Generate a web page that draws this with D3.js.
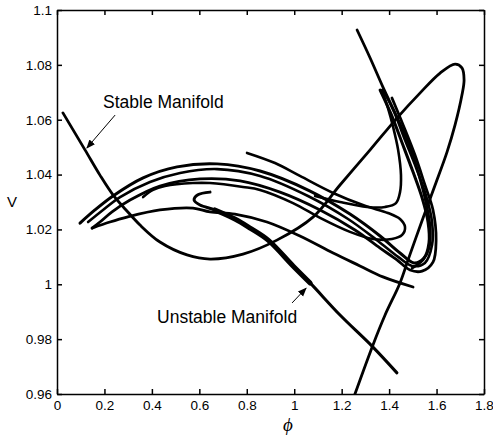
<!DOCTYPE html>
<html>
<head>
<meta charset="utf-8">
<script src="https://cdn.jsdelivr.net/npm/d3@7"></script>
<style>
	body { margin: 0; background: #fff; }
	.axis text { font-family: "Liberation Sans", Arial, sans-serif; font-size: 13.5px; fill: #000; }
	.axis path, .axis line { stroke: #000; stroke-width: 1.5px; }
	.curve { fill: none; stroke: #000; stroke-linecap: round; stroke-linejoin: round; }
</style>
</head>
<body>
<script>

let width = 493;
let height = 440;

let margins = {
	top: 10,
	right: 9,
	bottom: 46,
	left: 57
};

// tick values and labels
let xTicks = [0, 0.2, 0.4, 0.6, 0.8, 1, 1.2, 1.4, 1.6, 1.8];
let xTickLabels = ["0", "0.2", "0.4", "0.6", "0.8", "1", "1.2", "1.4", "1.6", "1.8"];
let yTicks = [0.96, 0.98, 1, 1.02, 1.04, 1.06, 1.08, 1.1];
let yTickLabels = ["0.96", "0.98", "1", "1.02", "1.04", "1.06", "1.08", "1.1"];

// curves, [phi, V]
let bigLoop = [[0.025,1.0625],[0.118,1.0490],[0.181,1.0398],[0.236,1.0326],[0.291,1.0271],[0.350,1.0216],[0.434,1.0154],[0.548,1.0107],[0.645,1.0092],[0.784,1.0110],[0.927,1.0161],[1.079,1.0245],[1.193,1.0362],[1.320,1.0490],[1.433,1.0606],[1.530,1.0697],[1.615,1.0770],[1.678,1.0803],[1.707,1.0789],[1.716,1.0745],[1.707,1.0690],[1.678,1.0581],[1.644,1.0482],[1.594,1.0362],[1.560,1.0282],[1.514,1.0172],[1.480,1.0089],[1.446,1.0005],[1.383,0.9888],[1.332,0.9779],[1.256,0.9600]];
let upperStable = [[1.265,1.0927],[1.320,1.0825],[1.374,1.0719],[1.433,1.0610],[1.488,1.0501],[1.526,1.0398],[1.556,1.0296],[1.573,1.0205],[1.568,1.0132],[1.543,1.0089],[1.497,1.0059]];
let outerArc = [[0.097,1.0223],[0.160,1.0271],[0.236,1.0322],[0.363,1.0388],[0.506,1.0428],[0.675,1.0439],[0.856,1.0413],[1.067,1.0340],[1.235,1.0256],[1.362,1.0176],[1.446,1.0114],[1.505,1.0078],[1.547,1.0096],[1.568,1.0151],[1.564,1.0227],[1.539,1.0315],[1.501,1.0409],[1.455,1.0515],[1.408,1.0621],[1.362,1.0708]];
let outerArc2 = [[0.131,1.0227],[0.194,1.0271],[0.266,1.0318],[0.392,1.0373],[0.519,1.0406],[0.675,1.0420],[0.856,1.0395],[1.058,1.0322],[1.227,1.0238],[1.353,1.0158],[1.438,1.0100],[1.497,1.0067],[1.551,1.0078],[1.581,1.0143],[1.581,1.0227],[1.556,1.0322],[1.514,1.0424],[1.467,1.0526],[1.421,1.0628],[1.379,1.0701]];
let innerArc = [[0.148,1.0205],[0.181,1.0227],[0.232,1.0264],[0.308,1.0307],[0.434,1.0358],[0.603,1.0384],[0.772,1.0377],[0.940,1.0336],[1.109,1.0271],[1.256,1.0198],[1.362,1.0132],[1.433,1.0089],[1.488,1.0052],[1.539,1.0048],[1.585,1.0081],[1.598,1.0161],[1.585,1.0271],[1.551,1.0362],[1.509,1.0471],[1.459,1.0581],[1.412,1.0679]];
let lowerArc = [[0.148,1.0205],[0.223,1.0227],[0.295,1.0245],[0.434,1.0271],[0.573,1.0278],[0.645,1.0264],[0.750,1.0256],[0.885,1.0227],[1.024,1.0176],[1.164,1.0114],[1.277,1.0067],[1.374,1.0027],[1.501,0.9990]];
let stableThick = [[0.645,1.0336],[0.594,1.0326],[0.578,1.0307],[0.603,1.0289],[0.666,1.0271],[0.750,1.0238],[0.814,1.0205],[0.890,1.0161],[0.995,1.0067],[1.067,1.0005],[1.193,0.9888],[1.332,0.9771],[1.433,0.9677]];
let tongue = [[0.801,1.0479],[0.919,1.0442],[1.024,1.0395],[1.164,1.0333],[1.298,1.0286],[1.395,1.0260],[1.446,1.0238],[1.467,1.0209],[1.455,1.0180],[1.412,1.0165],[1.332,1.0165],[1.235,1.0191],[1.109,1.0242],[0.995,1.0296],[0.856,1.0344],[0.784,1.0355],[0.645,1.0369],[0.573,1.0369],[0.455,1.0358],[0.405,1.0344],[0.363,1.0318]];
let innerHook = [[1.370,1.0708],[1.395,1.0643],[1.417,1.0573],[1.438,1.0490],[1.450,1.0398],[1.446,1.0336],[1.429,1.0296],[1.383,1.0282],[1.307,1.0282],[1.193,1.0300],[1.088,1.0322]];

// annotations
let labels = [
	{text: "Stable Manifold", x: 0.194, y: 1.0643, from: [0.245, 1.0617], to: [0.126, 1.0497]},
	{text: "Unstable Manifold", x: 0.422, y: 0.9859, from: [0.991, 0.9932], to: [1.050, 0.9986]}
];

let curves = [
	{data: bigLoop, w: 2.8},
	{data: upperStable, w: 2.8},
	{data: outerArc, w: 3},
	{data: outerArc2, w: 2.6},
	{data: innerArc, w: 2.8},
	{data: lowerArc, w: 2.8},
	{data: stableThick, w: 3},
	{data: stableThick.slice(4, 10), w: 5},
	{data: tongue, w: 2.6},
	{data: innerHook, w: 2.6}
];

let xScale = d3.scaleLinear()
	.range([margins.left, width - margins.right])
	.domain([0, 1.8]);

let yScale = d3.scaleLinear()
	.range([height - margins.bottom, margins.top])
	.domain([0.96, 1.1]);

let svg = d3.select("body")
	.append("svg")
		.attr("width", width)
		.attr("height", height);

svg.append("defs").append("marker")
	.attr("id", "head")
	.attr("viewBox", "0 0 10 10")
	.attr("refX", 9)
	.attr("refY", 5)
	.attr("markerWidth", 9)
	.attr("markerHeight", 9)
	.attr("markerUnits", "userSpaceOnUse")
	.attr("orient", "auto")
	.append("path")
		.attr("d", "M0,1 L10,5 L0,9 Z")
		.attr("fill", "#000");

let line = d3.line()
	.x(d => xScale(d[0]))
	.y(d => yScale(d[1]))
	.curve(d3.curveCatmullRom.alpha(0.5));

svg.append("clipPath")
	.attr("id", "plot")
	.append("rect")
		.attr("x", margins.left)
		.attr("y", margins.top)
		.attr("width", width - margins.left - margins.right)
		.attr("height", height - margins.top - margins.bottom);

svg.append("g")
	.attr("clip-path", "url(#plot)")
	.selectAll("path")
	.data(curves)
	.enter().append("path")
		.attr("class", "curve")
		.attr("d", d => line(d.data))
		.style("stroke-width", d => d.w + "px");

// axes, ticks pointing inward on all four sides
let xAxis = d3.axisBottom(xScale).tickValues(xTicks).tickSizeInner(-5).tickSizeOuter(0).tickPadding(6)
	.tickFormat((d, i) => xTickLabels[i]);
let yAxis = d3.axisLeft(yScale).tickValues(yTicks).tickSizeInner(-5).tickSizeOuter(0).tickPadding(5)
	.tickFormat((d, i) => yTickLabels[i]);

svg.append("g")
	.attr("class", "x axis")
	.attr("transform", "translate(0," + (height - margins.bottom) + ")")
	.call(xAxis);

svg.append("g")
	.attr("class", "y axis")
	.attr("transform", "translate(" + margins.left + ",0)")
	.call(yAxis);

svg.append("g")
	.attr("class", "axis")
	.attr("transform", "translate(0," + margins.top + ")")
	.call(d3.axisTop(xScale).tickValues(xTicks).tickSizeInner(-5).tickSizeOuter(0).tickFormat(""));

svg.append("g")
	.attr("class", "axis")
	.attr("transform", "translate(" + (width - margins.right) + ",0)")
	.call(d3.axisRight(yScale).tickValues(yTicks).tickSizeInner(-5).tickSizeOuter(0).tickFormat(""));

svg.selectAll(".x.axis, .y.axis").classed("axis", true);

// annotations
svg.selectAll("line.arrow")
	.data(labels)
	.enter().append("line")
		.attr("class", "arrow")
		.attr("x1", d => xScale(d.from[0]))
		.attr("y1", d => yScale(d.from[1]))
		.attr("x2", d => xScale(d.to[0]))
		.attr("y2", d => yScale(d.to[1]))
		.attr("stroke", "#000")
		.attr("stroke-width", 1)
		.attr("marker-end", "url(#head)");

svg.selectAll("text.note")
	.data(labels)
	.enter().append("text")
		.attr("class", "note")
		.attr("x", d => xScale(d.x))
		.attr("y", d => yScale(d.y))
		.style("font-family", "'Liberation Sans', Arial, sans-serif")
		.style("font-size", "17.5px")
		.text(d => d.text);

svg.append("text")
	.attr("x", 288)
	.attr("y", 431)
	.attr("text-anchor", "middle")
	.style("font-family", "'Liberation Serif', 'DejaVu Serif', serif")
	.style("font-style", "italic")
	.style("font-size", "19px")
	.text("ϕ");

svg.append("text")
	.attr("x", 12)
	.attr("y", 207)
	.attr("text-anchor", "middle")
	.style("font-family", "'Liberation Sans', Arial, sans-serif")
	.style("font-size", "15px")
	.text("V");

</script>
</body>
</html>
